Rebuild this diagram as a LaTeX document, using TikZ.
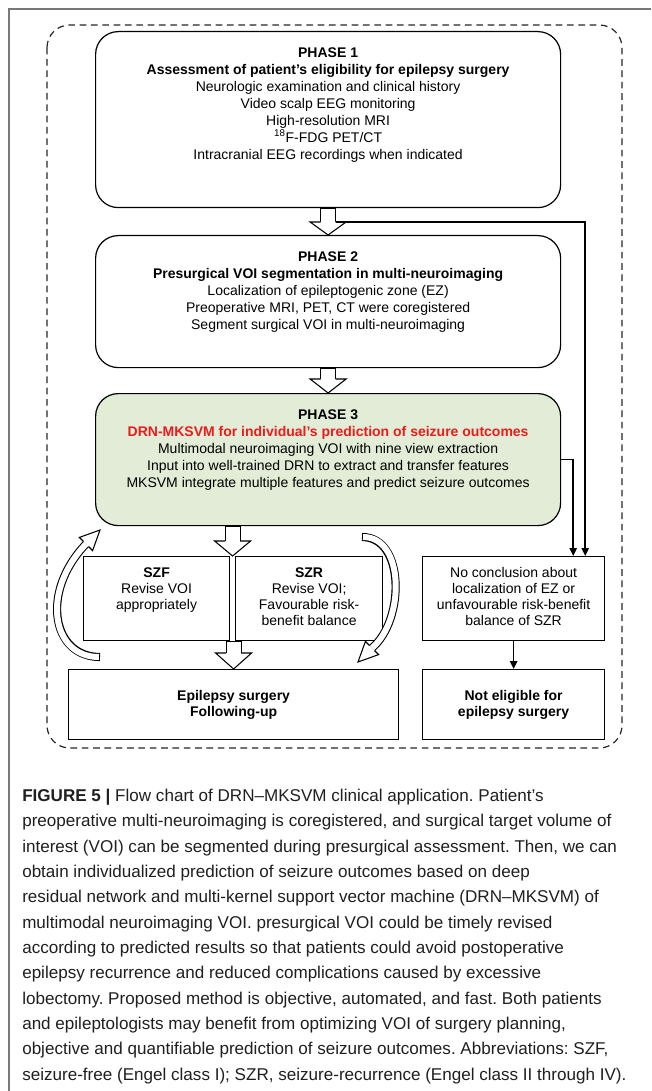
\documentclass[tikz,border=0pt]{standalone}
\usepackage{fontspec}
\setmainfont{Liberation Sans}
\usetikzlibrary{calc,arrows.meta}
\definecolor{phgreen}{RGB}{226,236,214}
\definecolor{drnred}{RGB}{235,28,28}
\definecolor{framegray}{RGB}{120,120,120}
\frenchspacing
\newcommand{\hollow}[7]{%
\draw[line width=#4] #1;
\draw[white, line width=#5, shorten <=0.8pt] #1;
\draw[line width=0.8pt, fill=white, line join=miter] ($(#2)!#6!90:(#3)$) -- ($(#2)!#7!90:(#3)$) -- (#3) -- ($(#2)!#7!-90:(#3)$) -- ($(#2)!#6!-90:(#3)$);}
\begin{document}
\begin{tikzpicture}[x=0.75pt, y=-0.75pt,
  box/.style={draw, line width=0.9pt, anchor=north west, inner sep=0pt},
  phase/.style={box, rounded corners=17pt, minimum width=348.75pt},
  txt/.style={anchor=north, inner sep=0pt, align=center, font=\fontsize{10.5pt}{12.75pt}\selectfont},
  smalltxt/.style={txt, font=\fontsize{10.5pt}{12pt}\selectfont},
  conn/.style={line width=1.2pt, -{Triangle[length=6pt, width=5.5pt]}}]

\useasboundingbox (0,0) rectangle (651,1091);
\draw[framegray, line width=1pt] (651,9) -- (9,9) -- (9,1091);
\draw[black!85, line width=0.9pt, dash pattern=on 5pt off 3.5pt, rounded corners=17pt] (47,25) rectangle (622,748);

\node[phase, minimum height=132pt] (ph1) at (95,31) {};
\node[phase, minimum height=99pt] (ph2) at (95,235) {};
\node[phase, minimum height=99pt, fill=phgreen] (ph3) at (95,393) {};
\node[box, minimum width=109.5pt, minimum height=63pt] (szf) at (83,556) {};
\node[box, minimum width=110.25pt, minimum height=63pt] (szr) at (235,556) {};
\node[box, minimum width=136.5pt, minimum height=63pt] (nc) at (422,556) {};
\node[box, minimum width=247.5pt, minimum height=52.5pt, align=center, font=\fontsize{10.5pt}{12pt}\selectfont\bfseries] (es) at (68,669) {Epilepsy surgery\\Following-up};
\node[box, minimum width=136.5pt, minimum height=52.5pt, align=center, font=\fontsize{10.5pt}{12pt}\selectfont\bfseries] (ne) at (422,669) {Not eligible for\\epilepsy surgery};

\node[txt] (t1) at ($(ph1.north)+(0,16)$) {\textbf{PHASE 1}\\\textbf{Assessment of patient’s eligibility for epilepsy surgery}\\Neurologic examination and clinical history\\Video scalp EEG monitoring\\High-resolution MRI\\\textsuperscript{18}F-FDG PET/CT\\Intracranial EEG recordings when indicated};
\node[txt] (t2) at ($(ph2.north)+(0,16)$) {\textbf{PHASE 2}\\\textbf{Presurgical VOI segmentation in multi-neuroimaging}\\Localization of epileptogenic zone (EZ)\\Preoperative MRI, PET, CT were coregistered\\Segment surgical VOI in multi-neuroimaging};
\node[txt] (t3) at ($(ph3.north)+(0,16)$) {\textbf{PHASE 3}\\\textcolor{drnred}{\textbf{DRN-MKSVM for individual’s prediction of seizure outcomes}}\\Multimodal neuroimaging VOI with nine view extraction\\Input into well-trained DRN to extract and transfer features\\MKSVM integrate multiple features and predict seizure outcomes};
\node[smalltxt] (t4) at ($(szf.north)+(0,11)$) {\textbf{SZF}\\Revise VOI\\appropriately};
\node[smalltxt] (t5) at ($(szr.north)+(0,11)$) {\textbf{SZR}\\Revise VOI;\\Favourable risk-\\benefit balance};
\node[smalltxt] (t6) at ($(nc.north)+(0,11)$) {No conclusion about\\localization of EZ or\\unfavourable risk-benefit\\balance of SZR};

\coordinate (b1) at ($(ph2.north)+(0,-13)$);
\coordinate (b2) at ($(ph3.north)+(0,-14)$);
\coordinate (tp3) at ($(szf.north east)!0.5!(szr.north west)$);
\coordinate (b3) at ($(tp3)+(0,-15)$);
\coordinate (b4) at ($(es.north)+(0,-16)$);
\coordinate (j1) at ($(b1)+(8,0)$);
\hollow{(ph1.south) -- (b1)}{b1}{ph2.north}{12pt}{10.4pt}{5.6pt}{13.5pt}
\hollow{(ph2.south) -- (b2)}{b2}{ph3.north}{12pt}{10.4pt}{5.6pt}{13.5pt}
\hollow{(ph3.south -| tp3) -- (b3)}{b3}{tp3}{12pt}{10.4pt}{5.6pt}{13.5pt}
\hollow{(es.north |- szf.south) -- (b4)}{b4}{es.north}{12pt}{10.4pt}{5.6pt}{13.5pt}

\coordinate (lt) at (100,657);
\coordinate (lb) at (86,544);
\coordinate (lh) at (100,530);
\coordinate (rt) at (362,537);
\coordinate (rb) at (372,648);
\coordinate (rh) at (358,662);
\hollow{(lt) .. controls (52,657) and (40,592) .. (lb)}{lb}{lh}{6.1pt}{4.5pt}{2.65pt}{7pt}
\hollow{(rt) .. controls (405,537) and (405,620) .. (rb)}{rb}{rh}{6.1pt}{4.5pt}{2.65pt}{7pt}

\draw[conn] (j1) -| ($(nc.north east)+(-20,0)$);
\draw[conn] (ph3.east) -| ($(nc.north east)+(-32,0)$);
\draw[conn] (nc.south) -- (ne.north);

\node[anchor=north west, inner sep=0pt, align=left, font=\fontsize{12.8pt}{19pt}\selectfont, text=black!88] (cap) at (22,789) {\textbf{FIGURE 5 |} Flow chart of DRN–MKSVM clinical application. Patient’s\\preoperative multi-neuroimaging is coregistered, and surgical target volume of\\interest (VOI) can be segmented during presurgical assessment. Then, we can\\obtain individualized prediction of seizure outcomes based on deep\\residual network and multi-kernel support vector machine (DRN–MKSVM) of\\multimodal neuroimaging VOI. presurgical VOI could be timely revised\\according to predicted results so that patients could avoid postoperative\\epilepsy recurrence and reduced complications caused by excessive\\lobectomy. Proposed method is objective, automated, and fast. Both patients\\and epileptologists may benefit from optimizing VOI of surgery planning,\\objective and quantifiable prediction of seizure outcomes. Abbreviations: SZF,\\seizure-free (Engel class I); SZR, seizure-recurrence (Engel class II through IV).};
\end{tikzpicture}
\end{document}
